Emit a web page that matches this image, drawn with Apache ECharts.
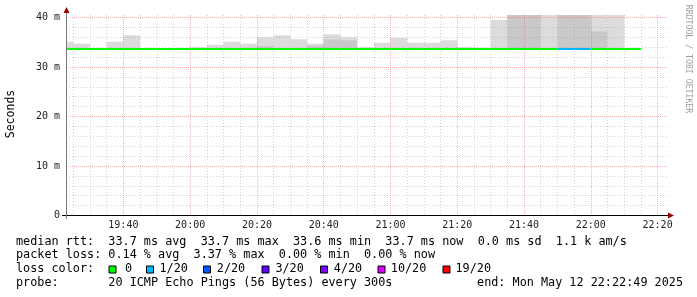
<!DOCTYPE html>
<html><head><meta charset="utf-8">
<script src="https://cdn.jsdelivr.net/npm/echarts@6/dist/echarts.min.js"></script>
<style>html,body{margin:0;padding:0;background:#fff}#c{width:697px;height:297px}</style>
</head><body><div id="c"></div>
<script>
// ---- data (5-minute buckets, start time of each bucket) ----
const bucketStarts = ["19:20","19:25","19:30","19:35","19:40","19:45","19:50","19:55",
  "20:00","20:05","20:10","20:15","20:20","20:25","20:30","20:35","20:40","20:45","20:50","20:55",
  "21:00","21:05","21:10","21:15","21:20","21:25","21:30","21:35","21:40","21:45","21:50","21:55",
  "22:00","22:05","22:10"];
// outer smoke (max ping), ms
const smokeMax = [35.1,34.7,33.8,35.1,36.4,33.8,33.8,33.8,
  34.0,34.5,35.1,34.7,36.0,36.4,35.6,34.7,36.6,36.0,34.0,34.9,
  35.9,34.9,34.9,35.4,34.0,33.9,39.5,41,41,41,41,41,
  41,41,33.8];
// inner (darker) smoke, ms
const smokeInner = [33.8,33.8,33.8,33.8,33.8,33.8,33.8,33.8,
  33.8,33.8,33.8,33.8,34.2,33.8,33.8,34.3,35.55,35.4,33.8,33.8,
  33.8,33.8,33.8,33.8,33.8,33.8,33.8,41,41,33.8,41,41,
  37.2,33.8,33.8];
// median rtt, ms
const medianRtt = [33.7,33.7,33.7,33.7,33.7,33.7,33.7,33.7,
  33.7,33.7,33.7,33.7,33.7,33.7,33.7,33.7,33.7,33.7,33.7,33.7,
  33.7,33.7,33.7,33.7,33.7,33.7,33.7,33.7,33.7,33.7,33.7,33.7,
  33.55,33.7,33.7];
// index into lossLabels / lossColors
const lossIndex = [0,0,0,0,0,0,0,0, 0,0,0,0,0,0,0,0,0,0,0,0, 0,0,0,0,0,0,0,0,0,0,1,1, 0,0,0];
const lossLabels = ["0","1/20","2/20","3/20","4/20","10/20","19/20"];
const lossColors = ["#00ff00","#00b8ff","#0059ff","#5e00ff","#7e00ff","#dd00ff","#ff0000"];
const viewStart = "19:22:49";
const viewEnd = "22:22:49";
const bucketMinutes = 5;
const yTickLabels = {0:"0",10:"10 m",20:"20 m",30:"30 m",40:"40 m"};
const medianLegend = "median rtt:  33.7 ms avg  33.7 ms max  33.6 ms min  33.7 ms now  0.0 ms sd  1.1 k am/s";
const lossLegend = "packet loss: 0.14 % avg  3.37 % max  0.00 % min  0.00 % now";
const probeLegend = "probe:       20 ICMP Echo Pings (56 Bytes) every 300s";
const endLegend = "end: Mon May 12 22:22:49 2025";
const yTitle = "Seconds";
const watermark = "RRDTOOL / TOBI OETIKER";

// ---- helpers ----
function toMin(s){const p=s.split(':').map(Number);return p[0]*60+p[1]+(p[2]||0)/60;}
function fmt(v){const m=Math.round(v);const h=Math.floor(m/60),mm=m%60;return (h<10?'0':'')+h+':'+(mm<10?'0':'')+mm;}

const smokeData = [];
bucketStarts.forEach((s,i)=>{
  const t0=toMin(s), t1=t0+bucketMinutes;
  smokeData.push([t0,t1,medianRtt[i],smokeMax[i],0]);
  if (smokeInner[i] > medianRtt[i]) smokeData.push([t0,t1,medianRtt[i],smokeInner[i],1]);
});
const medianData = bucketStarts.map((s,i)=>{const t0=toMin(s);return [t0,t0+bucketMinutes,medianRtt[i],lossIndex[i]];});

const shade = ['#dcdcdc','#c9c9c9'];
function renderSmoke(params, api){
  const p0 = api.coord([api.value(0), api.value(3)]);
  const p1 = api.coord([api.value(1), api.value(2)]);
  const r = echarts.graphic.clipRectByRect({x:p0[0],y:p0[1],width:p1[0]-p0[0],height:p1[1]-p0[1]}, params.coordSys);
  return r && {type:'rect', shape:r, style:{fill: shade[api.value(4)]}};
}
function renderMedian(params, api){
  const p0 = api.coord([api.value(0), api.value(2)]);
  const p1 = api.coord([api.value(1), api.value(2)]);
  const y0 = Math.round(p0[1]-1);
  const r = echarts.graphic.clipRectByRect({x:p0[0],y:y0,width:p1[0]-p0[0],height:2}, params.coordSys);
  return r && {type:'rect', shape:r, style:{fill: lossColors[api.value(3)]}};
}

const MONO = '"DejaVu Sans Mono", monospace';
const legendFont = '11.8px ' + MONO;
const graphics = [
  // axis lines and arrows
  {type:'line', z:100, shape:{x1:62,y1:215.5,x2:670,y2:215.5}, style:{stroke:'#000',lineWidth:1}},
  {type:'line', z:100, shape:{x1:66.5,y1:11,x2:66.5,y2:219}, style:{stroke:'#777',lineWidth:1}},
  {type:'polygon', z:101, shape:{points:[[668,212.5],[674,215.5],[668,218.5]]}, style:{fill:'#a00000'}},
  {type:'polygon', z:101, shape:{points:[[63.5,13],[66.5,7],[69.5,13]]}, style:{fill:'#a00000'}},
  {type:'text', z:100, x:10.7, y:114, rotation:Math.PI/2, style:{text:yTitle, font:'11.5px '+MONO, fill:'#000', align:'center', verticalAlign:'middle'}},
  {type:'text', z:100, x:688.3, y:59, rotation:-Math.PI/2, style:{text:watermark, font:'8.2px '+MONO, fill:'#a0a0a0', align:'center', verticalAlign:'middle'}},
  {type:'text', z:100, x:16, y:241.5, style:{text:medianLegend, font:legendFont, fill:'#000', verticalAlign:'middle'}},
  {type:'text', z:100, x:16, y:255.3, style:{text:lossLegend, font:legendFont, fill:'#000', verticalAlign:'middle'}},
  {type:'text', z:100, x:16, y:269.2, style:{text:'loss color:', font:legendFont, fill:'#000', verticalAlign:'middle'}},
  {type:'text', z:100, x:16, y:283, style:{text:probeLegend, font:legendFont, fill:'#000', verticalAlign:'middle'}},
  {type:'text', z:100, x:683, y:283, style:{text:endLegend, font:legendFont, fill:'#000', align:'right', verticalAlign:'middle'}}
];
const boxX = [109,146.5,203.5,262,320.5,378,443];
const labX = [125,159.5,216.8,275.4,333.8,390.8,455.5];
lossLabels.forEach((l,i)=>{
  graphics.push({type:'rect', z:100, shape:{x:boxX[i],y:266,width:7,height:7}, style:{fill:lossColors[i], stroke:'#000', lineWidth:1}});
  graphics.push({type:'text', z:100, x:labX[i], y:269.2, style:{text:l, font:legendFont, fill:'#000', verticalAlign:'middle'}});
});

const chart = echarts.init(document.getElementById('c'), null, {renderer:'canvas'});
chart.setOption({
  animation:false,
  backgroundColor:'#ffffff',
  grid:{left:66, top:15, width:601, height:200.5, containLabel:false, outerBoundsMode:'none'},
  xAxis:{
    type:'value', min:toMin(viewStart), max:toMin(viewEnd), minInterval:20, maxInterval:20, z:5,
    axisLine:{show:false}, axisTick:{show:false},
    axisLabel:{formatter:fmt, showMinLabel:false, showMaxLabel:false, margin:5, color:'#222', fontSize:10, fontFamily:MONO},
    splitLine:{show:true, showMinLine:false, showMaxLine:false, lineStyle:{color:'rgba(225,70,70,0.4)', width:1, type:[1,1]}},
    minorTick:{show:false, splitNumber:4},
    minorSplitLine:{show:true, lineStyle:{color:'rgba(140,140,140,0.38)', width:1, type:[1,2]}}
  },
  yAxis:{
    type:'value', min:0, max:40.5, interval:10, z:5,
    axisLine:{show:false}, axisTick:{show:false},
    axisLabel:{formatter:v=>yTickLabels[v]!==undefined?yTickLabels[v]:'', showMaxLabel:false, margin:6, color:'#222', fontSize:10, fontFamily:MONO},
    splitLine:{show:true, showMinLine:false, showMaxLine:false, lineStyle:{color:'rgba(225,70,70,0.4)', width:1, type:[1,1]}},
    minorTick:{show:false, splitNumber:5},
    minorSplitLine:{show:true, lineStyle:{color:'rgba(140,140,140,0.38)', width:1, type:[1,2]}}
  },
  series:[
    {type:'custom', name:'smoke', z:1, renderItem:renderSmoke, encode:{x:[0,1], y:[2,3]}, data:smokeData, silent:true},
    {type:'custom', name:'median', z:10, renderItem:renderMedian, encode:{x:[0,1], y:2}, data:medianData, silent:true}
  ],
  graphic:graphics
});
</script></body></html>
